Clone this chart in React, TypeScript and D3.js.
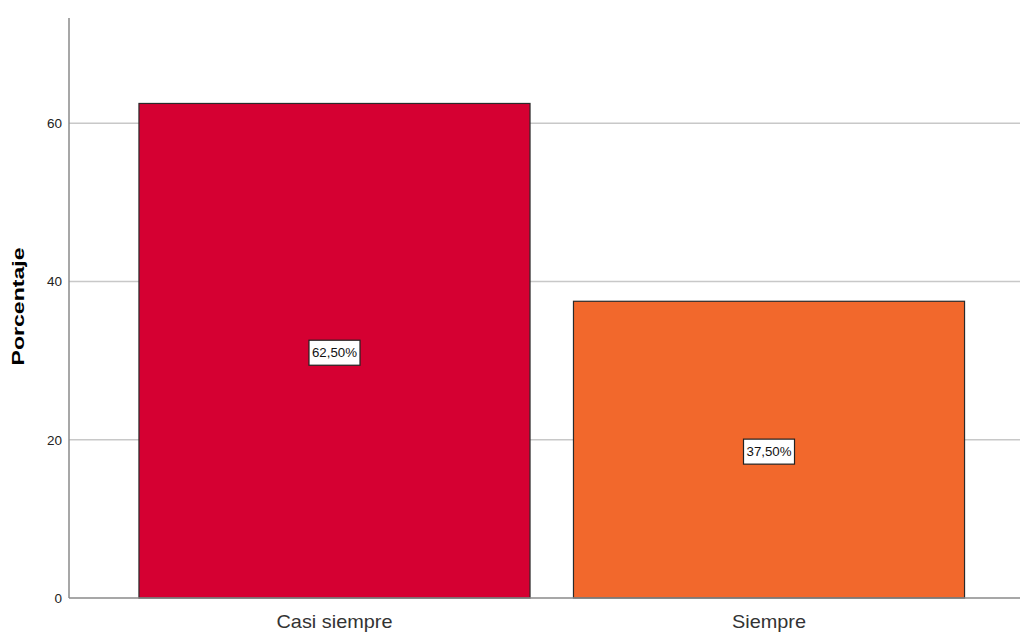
import React from "react";
import * as d3 from "d3";

const categories = ["Casi siempre", "Siempre"];
const values = [62.5, 37.5];
const valueLabels = ["62,50%", "37,50%"];
const colors = ["#d50032", "#f2682c"];
const yTicks = [0, 20, 40, 60];

const W = 1020;
const H = 633;

export default function App() {
  const y = d3.scaleLinear().domain([0, 73.3]).range([598, 18]);
  const x = d3
    .scaleBand<string>()
    .domain(categories)
    .range([69, 1034.5])
    .paddingInner(0.1)
    .paddingOuter(0.161);

  const labelWidths: Record<string, number> = { "Casi siempre": 116, Siempre: 74 };

  return (
    <svg
      width={W}
      height={H}
      style={{ position: "absolute", left: 0, top: 0, background: "#fff" }}
      fontFamily="Liberation Sans, Arial, sans-serif"
    >
      {yTicks.filter((t) => t > 0).map((t) => (
        <line key={"g" + t} x1={69} x2={W} y1={y(t)} y2={y(t)} stroke="#c8c8c8" strokeWidth={1.5} />
      ))}
      {categories.map((c, i) => (
        <rect
          key={c}
          x={x(c)}
          y={y(values[i])}
          width={x.bandwidth()}
          height={y(0) - y(values[i])}
          fill={colors[i]}
          stroke="#2a2a2a"
          strokeWidth={1.2}
        />
      ))}
      <line x1={69} x2={69} y1={18} y2={598} stroke="#8a8a8a" strokeWidth={1.5} />
      <line x1={69} x2={W} y1={598} y2={598} stroke="#8a8a8a" strokeWidth={1.5} />
      {yTicks.map((t) => (
        <text key={"t" + t} x={62} y={y(t)} dy="0.36em" textAnchor="end" fontSize={13.5} fill="#222">
          {t}
        </text>
      ))}
      <text
        transform={`translate(24,306.5) rotate(-90)`}
        textAnchor="middle"
        fontSize={16.5}
        fontWeight="bold"
        fill="#000"
        textLength={118}
        lengthAdjust="spacingAndGlyphs"
      >
        Porcentaje
      </text>
      {categories.map((c) => (
        <text
          key={"c" + c}
          x={(x(c) as number) + x.bandwidth() / 2}
          y={628}
          textAnchor="middle"
          fontSize={18.5}
          fill="#333"
          textLength={labelWidths[c]}
          lengthAdjust="spacingAndGlyphs"
        >
          {c}
        </text>
      ))}
      {categories.map((c, i) => {
        const cx = (x(c) as number) + x.bandwidth() / 2;
        const cy = y(values[i] / 2) + 2;
        return (
          <g key={"l" + c}>
            <rect x={cx - 25.5} y={cy - 12.5} width={51} height={25} fill="#fff" stroke="#222" strokeWidth={1.2} />
            <text x={cx} y={cy} dy="0.36em" textAnchor="middle" fontSize={13} fill="#111" textLength={45} lengthAdjust="spacingAndGlyphs">
              {valueLabels[i]}
            </text>
          </g>
        );
      })}
    </svg>
  );
}
